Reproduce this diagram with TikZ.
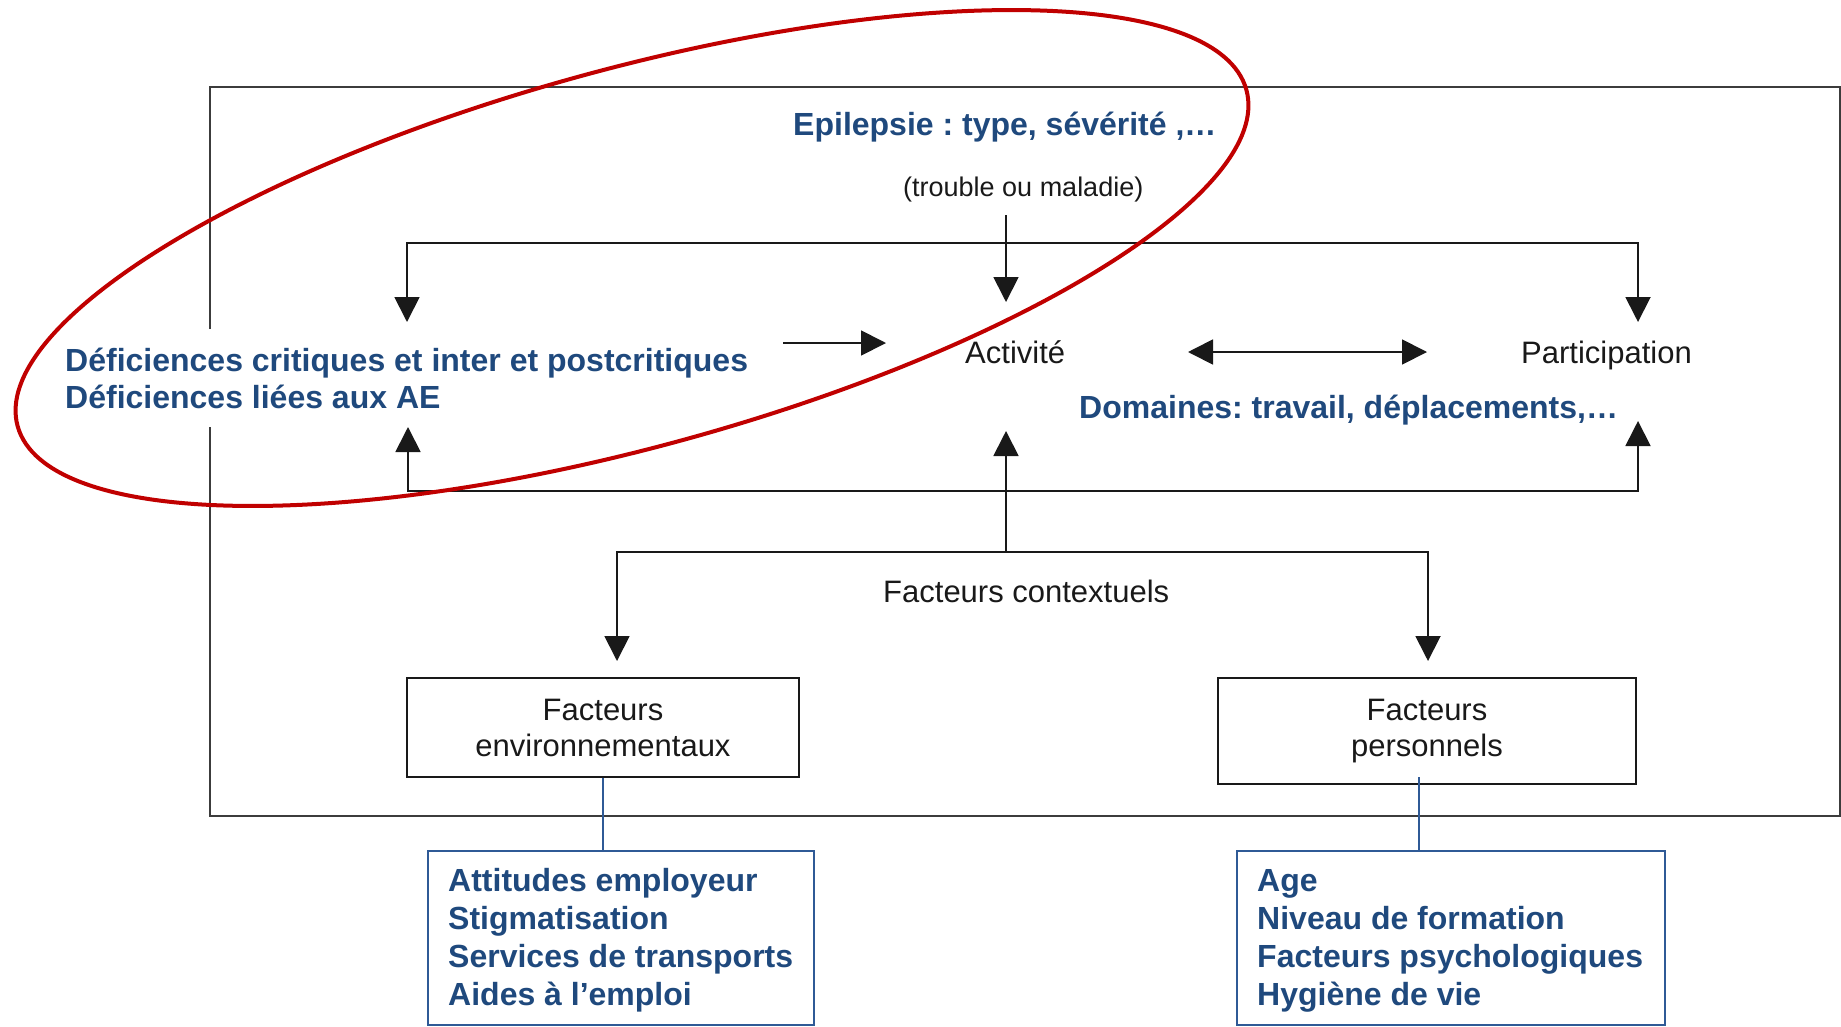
\documentclass[tikz,border=0pt]{standalone}
\usepackage{fontspec}
\setmainfont{Liberation Sans}
\usetikzlibrary{arrows.meta}
\definecolor{tblue}{RGB}{31,73,125}
\definecolor{lblue}{RGB}{47,90,150}
\definecolor{ered}{RGB}{192,0,0}
\definecolor{ink}{RGB}{25,25,25}
\definecolor{framec}{RGB}{60,60,60}
\frenchspacing
\begin{document}
\begin{tikzpicture}[x=1pt,y=-1pt,
  bt/.style={inner sep=0pt, text=tblue, font=\fontsize{32}{38}\selectfont\bfseries, anchor=base west},
  nt/.style={inner sep=0pt, text=ink, font=\fontsize{31}{36}\selectfont, anchor=base west},
  conn/.style={draw=ink, line width=1.8pt},
  arr/.style={conn, -{Triangle[length=25pt,width=25pt]}},
  darr/.style={conn, {Triangle[length=25pt,width=25pt]}-{Triangle[length=25pt,width=25pt]}},
  fbox/.style={draw=ink, line width=2pt, align=center, text=ink, font=\fontsize{31}{36}\selectfont, inner sep=0pt},
  bbox/.style={draw=lblue, line width=2pt, inner sep=0pt},
  bline/.style={draw=lblue, line width=1.5pt},
  outer/.style={draw=framec, line width=2pt},
  ring/.style={draw=ered, line width=4pt}
]
\useasboundingbox (0,0) rectangle (1841,1026);

% outer frame (gap on the left side behind the text)
\draw[outer] (210,329) -- (210,87) -- (1840,87) -- (1840,816) -- (210,816) -- (210,427);

% texts
\node[bt] (epi) at (793,135) {Epilepsie : type, sévérité ,…};
\node[nt, font=\fontsize{27}{32}\selectfont] (trb) at (903,196) {(trouble ou maladie)};
\node[bt] (def1) at (65,371) {Déficiences critiques et inter et postcritiques};
\node[bt] (def2) at (65,408) {Déficiences liées aux AE};
\node[nt] (act) at (965,363) {Activité};
\node[nt] (par) at (1521,363) {Participation};
\node[bt] (dom) at (1079,418) {Domaines: travail, déplacements,…};
\node[nt] (fc) at (883,602) {Facteurs contextuels};

\node[fbox, minimum width=392, minimum height=99] (fe) at (603,727.5) {Facteurs\\environnementaux};
\node[fbox, minimum width=418, minimum height=106] (fp) at (1427,731) {Facteurs\\personnels};

\node[bbox, minimum width=386, minimum height=174, anchor=north west] (be) at (427,850) {};
\node[bbox, minimum width=428, minimum height=174, anchor=north west] (bp) at (1236,850) {};

\node[bt] (e1) at (448,891) {Attitudes employeur};
\node[bt] (e2) at (448,929) {Stigmatisation};
\node[bt] (e3) at (448,967) {Services de transports};
\node[bt] (e4) at (448,1005) {Aides à l’emploi};

\node[bt] (p1) at (1257,891) {Age};
\node[bt] (p2) at (1257,929) {Niveau de formation};
\node[bt] (p3) at (1257,967) {Facteurs psychologiques};
\node[bt] (p4) at (1257,1005) {Hygiène de vie};

% junction coordinates
\coordinate (trbout) at (1006,215);
\coordinate (actin) at (1006,302);
\coordinate (ldn) at (407,322);
\coordinate (tl) at (407,243);
\coordinate (tr) at (1638,243);
\coordinate (rdn) at (1638,322);
\coordinate (lup) at (408,427);
\coordinate (bl) at (408,491);
\coordinate (br) at (1638,491);
\coordinate (rup) at (1638,421);
\coordinate (defout) at (783,343);
\coordinate (defin) at (886,343);
\coordinate (actR) at (1188,352);
\coordinate (parL) at (1427,352);
\coordinate (cb) at (1006,552);
\coordinate (aup) at (1006,431);
\coordinate (fl) at (617,552);
\coordinate (fld) at (617,661);
\coordinate (fr) at (1428,552);
\coordinate (frd) at (1428,661);
\coordinate (pc) at (1419,777);

% connectors
\draw[arr] (trbout) -- (actin);
\draw[darr] (ldn) -- (tl) -- (tr) -- (rdn);
\draw[darr] (lup) -- (bl) -- (br) -- (rup);
\draw[arr] (defout) -- (defin);
\draw[darr] (actR) -- (parL);
\draw[arr] (cb) -- (aup);
\draw[darr] (fld) -- (fl) -- (fr) -- (frd);

\draw[bline] (fe.south) -- (fe.south |- be.north);
\draw[bline] (pc) -- (pc |- bp.north);

% red ellipse
\draw[ring, rotate around={15.3:(632,258)}] (632,258) ellipse [x radius=637, y radius=189];
\end{tikzpicture}
\end{document}
